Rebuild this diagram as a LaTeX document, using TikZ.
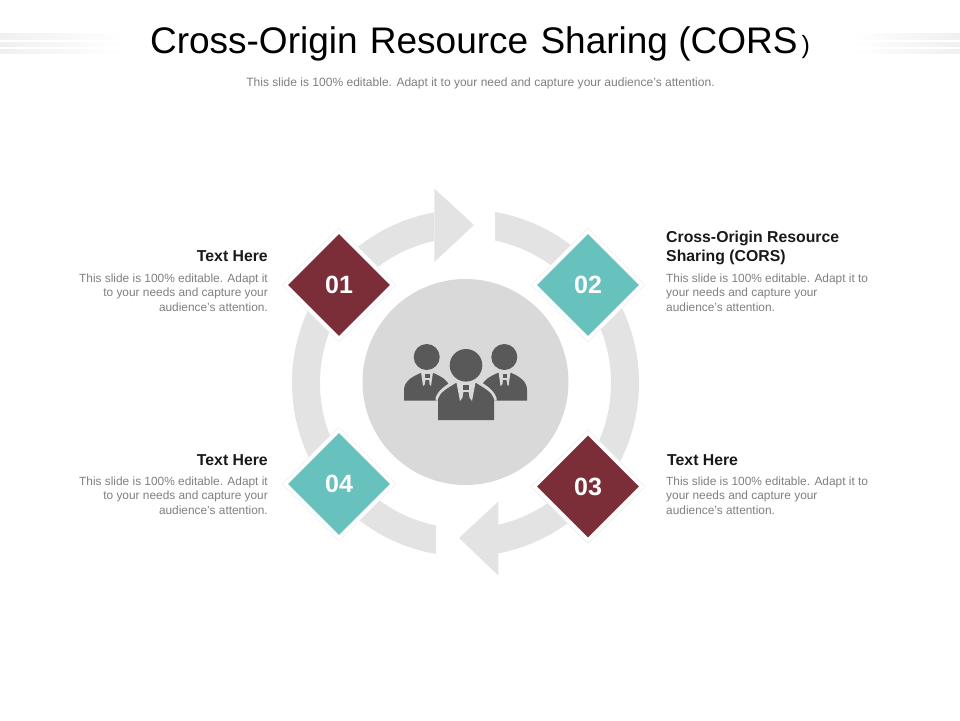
\documentclass[tikz,border=0pt]{standalone}
\usepackage{fontspec}
\setmainfont{Liberation Sans}
\usetikzlibrary{shapes.geometric}
\definecolor{ringc}{HTML}{E3E3E3}
\definecolor{discc}{HTML}{D9D9D9}
\definecolor{iconc}{HTML}{595959}
\definecolor{wine}{HTML}{7B2D38}
\definecolor{tealc}{HTML}{67C1BD}
\definecolor{bodyc}{HTML}{7F7F7F}
\definecolor{stripec}{HTML}{F0F0F0}
\tikzset{
  ringpart/.style={fill=ringc,draw=none},
  halo/.style={shape=diamond,aspect=1,inner sep=0pt,minimum size=114pt,fill=white,draw=black!6,line width=0.8pt},
  tile/.style={shape=diamond,aspect=1,inner sep=0pt,minimum size=102pt,text=white,font=\fontsize{25}{25}\selectfont\bfseries},
  headtxt/.style={inner sep=0pt,text=black!90,font=\fontsize{15.8}{19}\selectfont\bfseries},
  bodytxt/.style={inner sep=0pt,text=bodyc,font=\fontsize{11.88}{14.4}\selectfont},
  iconp/.style={fill=iconc,draw=none},
  iconl/.style={fill=discc,draw=none}
}
\begin{document}
\begin{tikzpicture}[x=1pt,y=-1pt]
\useasboundingbox (0,0) rectangle (960,720);
% header stripes
\foreach \ya/\yb in {33/39,42/46,49/53}{
  \path[left color=stripec,right color=white] (0,\ya) rectangle (125,\yb);
  \path[left color=white,right color=stripec] (850,\ya) rectangle (960,\yb);
}
\node[inner sep=0pt,font=\fontsize{37}{37}\selectfont] (title) at (480,43.5) {Cross-Origin\hspace{2pt} Resource\hspace{2pt} Sharing (CORS\hspace{4pt}{\fontsize{25}{25}\selectfont)}};
\node[inner sep=0pt,text=bodyc,font=\fontsize{12.03}{14}\selectfont] (subtitle) at (480.5,83) {This slide is 100\% editable. Adapt it to your need and capture your audience’s attention.};
% ring
\begin{scope}[shift={(465.5,383)},y=1pt]
  \path[ringpart] (100.5:173.5) arc[start angle=100.5,end angle=260.2,radius=173.5]
     -- (258.3:145.5) arc[start angle=258.3,end angle=102.5,radius=145.5] -- cycle;
  \path[ringpart] (80.2:173.5) arc[start angle=80.2,end angle=-79.2,radius=173.5]
     -- (-77.1:145.5) arc[start angle=-77.1,end angle=78.3,radius=145.5] -- cycle;
\end{scope}
\path[ringpart] (434.3,188.5) -- (474,225) -- (434.3,262) -- cycle;
\path[ringpart] (498.3,501.5) -- (459,538) -- (498.3,575.5) -- cycle;
% disc
\node[circle,fill=discc,inner sep=0pt,minimum size=206pt] (disc) at (465.5,382) {};
% people icon
\path[iconp] (404,400.7) -- (404,390) .. controls (404,381) and (413,376) .. (422,372.5) -- (432,372.5) .. controls (441,376) and (450,381) .. (450,390) -- (450,400.7) -- cycle;
\path[iconp] (481,400.7) -- (481,390) .. controls (481,381) and (490,376) .. (499,372.5) -- (510,372.5) .. controls (519,376) and (527,381) .. (527,390) -- (527,400.7) -- cycle;
\path[iconl] (421,372) -- (433,372) -- (431,386) -- (427,382) -- (423,386) -- cycle;
\path[iconl] (498.5,372) -- (510.5,372) -- (508.5,386) -- (504.5,382) -- (500.5,386) -- cycle;
\path[iconp] (425,374) rectangle (429.5,378);
\path[iconp] (425.5,380) -- (429,380) -- (429.5,384) -- (427,387) -- (425,384) -- cycle;
\path[iconp] (502.5,374) rectangle (507,378);
\path[iconp] (503,380) -- (506.5,380) -- (507,384) -- (504.7,387) -- (502.5,384) -- cycle;
\path[iconl] (435.5,400.7) -- (435.5,398) .. controls (438,390) and (446,385) .. (454,380.5) -- (478,380.5) .. controls (486,385) and (494,390) .. (496.5,398) -- (496.5,400.7) -- cycle;
\path[iconp] (438,420) -- (438,399) .. controls (440,392) and (448,388) .. (456,383) -- (476,383) .. controls (484,388) and (492,392) .. (494,399) -- (494,420) -- cycle;
\path[iconl] (456,380) -- (476,380) -- (472,401) -- (466,393) -- (460,401) -- cycle;
\path[iconp] (463,385) rectangle (469,390);
\path[iconp] (463.5,392) -- (468.5,392) -- (469.5,398) -- (466,403) -- (462.5,398) -- cycle;
\node[circle,fill=iconc,inner sep=0pt,minimum size=26pt] (headl) at (426.7,357) {};
\node[circle,fill=iconc,inner sep=0pt,minimum size=26pt] (headr) at (504.3,357) {};
\node[circle,fill=iconc,inner sep=0pt,minimum size=32.6pt] (headm) at (466,365.3) {};
% diamonds
\node[halo] (h1) at (339,285) {};
\node[halo] (h2) at (588,285) {};
\node[halo] (h3) at (588,486.5) {};
\node[halo] (h4) at (339,484) {};
\node[tile,fill=wine] (t1) at (339,285) {\raisebox{-1pt}{01}};
\node[tile,fill=tealc] (t2) at (588,285) {\raisebox{-1pt}{02}};
\node[tile,fill=wine] (t3) at (588,486.5) {\raisebox{-1pt}{03}};
\node[tile,fill=tealc] (t4) at (339,484) {\raisebox{-1pt}{04}};
% labels
\node[headtxt,anchor=base east] (l1) at (268,261) {Text Here};
\node[bodytxt,anchor=north east,align=right] (b1) at (268,273.5) {This slide is 100\% editable. Adapt it\\to your needs and capture your\\audience’s attention.};
\node[headtxt,anchor=north west,align=left] (l2) at (666,231) {Cross-Origin Resource\\Sharing (CORS)};
\node[bodytxt,anchor=north west,align=left] (b2) at (666,273.5) {This slide is 100\% editable. Adapt it to\\your needs and capture your\\audience’s attention.};
\node[headtxt,anchor=base west] (l3) at (667,465) {Text Here};
\node[bodytxt,anchor=north west,align=left] (b3) at (666,476.5) {This slide is 100\% editable. Adapt it to\\your needs and capture your\\audience’s attention.};
\node[headtxt,anchor=base east] (l4) at (268,465) {Text Here};
\node[bodytxt,anchor=north east,align=right] (b4) at (268,476.5) {This slide is 100\% editable. Adapt it\\to your needs and capture your\\audience’s attention.};
\end{tikzpicture}
\end{document}
